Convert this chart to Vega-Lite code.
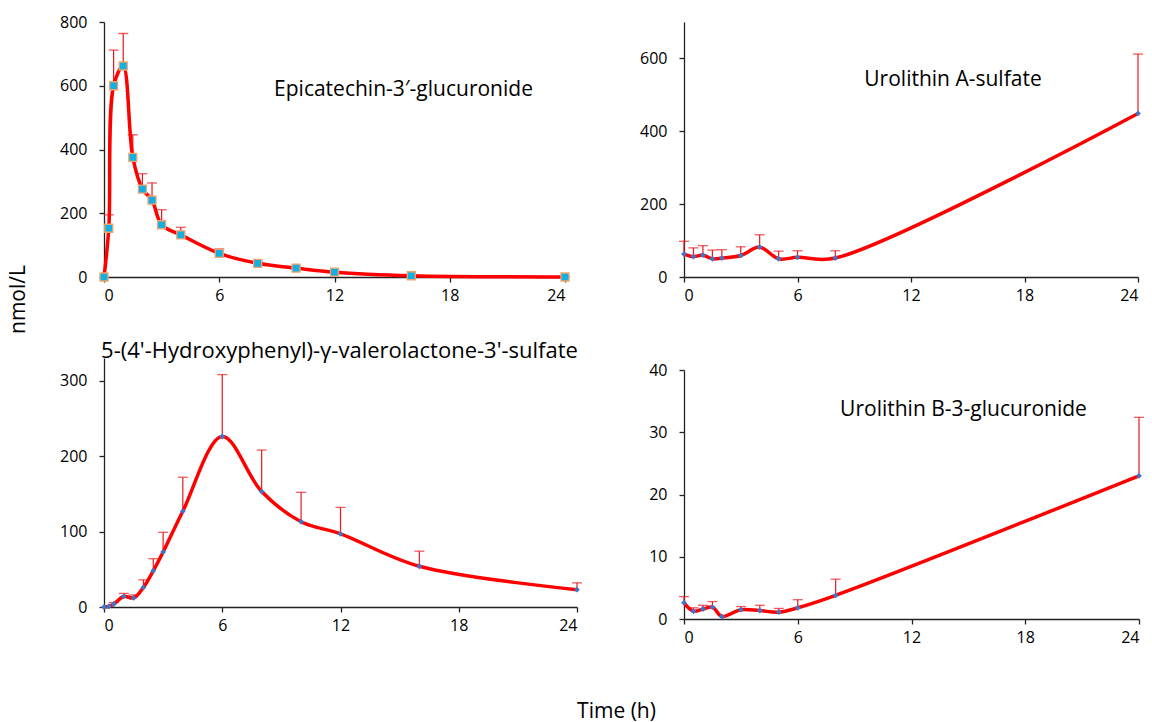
{
  "$schema": "https://vega.github.io/schema/vega-lite/v6.json",
  "padding": {"left": 7, "top": 14, "right": 5, "bottom": 5},
  "background": "white",
  "datasets": {
    "epi": [
      {"t": 0, "v": 0, "hi": null},
      {"t": 0.25, "v": 153, "hi": 195},
      {"t": 0.5, "v": 600, "hi": 712},
      {"t": 1, "v": 662, "hi": 764},
      {"t": 1.5, "v": 375, "hi": 446},
      {"t": 2, "v": 276, "hi": 324},
      {"t": 2.5, "v": 241, "hi": 295},
      {"t": 3, "v": 164, "hi": 211},
      {"t": 4, "v": 132, "hi": 156},
      {"t": 6, "v": 74, "hi": 88},
      {"t": 8, "v": 43, "hi": 50},
      {"t": 10, "v": 28, "hi": 33},
      {"t": 12, "v": 15, "hi": 19},
      {"t": 16, "v": 4, "hi": 6},
      {"t": 24, "v": 0, "hi": 1}
    ],
    "uroA": [
      {"t": 0, "v": 63, "hi": 98},
      {"t": 0.5, "v": 56, "hi": 80},
      {"t": 1, "v": 60, "hi": 86},
      {"t": 1.5, "v": 50, "hi": 74},
      {"t": 2, "v": 52, "hi": 75},
      {"t": 3, "v": 59, "hi": 83},
      {"t": 4, "v": 82, "hi": 116},
      {"t": 5, "v": 50, "hi": 71},
      {"t": 6, "v": 54, "hi": 72},
      {"t": 8, "v": 52, "hi": 72},
      {"t": 24, "v": 449, "hi": 612}
    ],
    "hvl": [
      {"t": 0, "v": 0, "hi": null},
      {"t": 0.25, "v": 1, "hi": null},
      {"t": 0.5, "v": 4, "hi": 6},
      {"t": 1, "v": 14, "hi": 18},
      {"t": 1.5, "v": 12, "hi": 16},
      {"t": 2, "v": 26, "hi": 36},
      {"t": 2.5, "v": 48, "hi": 64},
      {"t": 3, "v": 73, "hi": 99},
      {"t": 4, "v": 127, "hi": 172},
      {"t": 6, "v": 226, "hi": 308},
      {"t": 8, "v": 153, "hi": 208},
      {"t": 10, "v": 113, "hi": 152},
      {"t": 12, "v": 97, "hi": 132},
      {"t": 16, "v": 54, "hi": 74},
      {"t": 24, "v": 23, "hi": 32}
    ],
    "uroB": [
      {"t": 0, "v": 2.6, "hi": 3.6},
      {"t": 0.5, "v": 1.25, "hi": 1.8},
      {"t": 1, "v": 1.6, "hi": 2.2},
      {"t": 1.5, "v": 1.9, "hi": 2.8},
      {"t": 2, "v": 0.4, "hi": null},
      {"t": 3, "v": 1.5, "hi": 2.0},
      {"t": 4, "v": 1.35, "hi": 2.2},
      {"t": 5, "v": 1.1, "hi": 1.7},
      {"t": 6, "v": 1.8, "hi": 3.1},
      {"t": 8, "v": 3.8, "hi": 6.4},
      {"t": 24, "v": 23, "hi": 32.4}
    ]
  },
  "title": {"text": "Time (h)", "orient": "bottom", "anchor": "middle", "fontSize": 21, "font": "Open Sans", "fontWeight": "normal", "color": "black", "offset": 56, "dx": 40},
  "config": {
    "view": {"stroke": null},
    "font": "Open Sans",
    "axis": {"grid": false, "domainColor": "#222", "tickColor": "#222", "tickSize": 5, "labelFontSize": 16, "labelFont": "Open Sans", "labelColor": "black", "domainWidth": 1.3, "tickWidth": 1.3},
    "axisY": {"labelPadding": 12},
    "axisX": {"labelPadding": 5},
    "title": {"fontWeight": "normal", "fontSize": 21, "font": "Open Sans", "color": "black"}
  },
  "spacing": 55,
  "hconcat": [
    {
      "bounds": "flush",
      "spacing": 81,
      "vconcat": [
        {
          "width": 461, "height": 255,
          "data": {"name": "epi"},
          "title": {"text": "Epicatechin-3′-glucuronide", "anchor": "middle", "dx": 69, "offset": -86},
          "encoding": {
            "x": {"field": "t", "type": "quantitative", "scale": {"domain": [0, 24], "nice": false}, "axis": {"values": [0, 6, 12, 18, 24], "title": null}},
            "y": {"field": "v", "type": "quantitative", "scale": {"domain": [0, 800], "nice": false}, "axis": {"values": [0, 200, 400, 600, 800], "title": "nmol/L", "titleFontSize": 21, "titleFontWeight": "normal", "titleFont": "Open Sans", "titleColor": "black", "titleX": -86, "titleY": 277, "titleAngle": -90, "titleBaseline": "middle"}}
          },
          "layer": [
            {"transform": [{"filter": "datum.hi != null"}], "mark": {"type": "rule", "color": "#e8181c", "strokeWidth": 1.2}, "encoding": {"y2": {"field": "hi"}}},
            {"transform": [{"filter": "datum.hi != null"}], "mark": {"type": "tick", "orient": "horizontal", "color": "#e8181c", "size": 10, "thickness": 1.3}, "encoding": {"y": {"field": "hi", "type": "quantitative"}}},
            {"mark": {"type": "line", "color": "#ff0000", "strokeWidth": 3.5, "interpolate": "catmull-rom"}, "encoding": {}},
            {"mark": {"type": "square", "filled": true, "fill": "#0fb0e6", "stroke": "#f4a46a", "strokeWidth": 1.3, "opacity": 1, "size": 64}, "encoding": {}}
          ]
        },
        {
          "width": 473, "height": 249,
          "data": {"name": "hvl"},
          "title": {"text": "5-(4'-Hydroxyphenyl)-γ-valerolactone-3'-sulfate", "anchor": "middle", "dx": -1, "offset": -5, "fontSize": 22},
          "encoding": {
            "x": {"field": "t", "type": "quantitative", "scale": {"domain": [0, 24], "nice": false}, "axis": {"values": [0, 6, 12, 18, 24], "title": null}},
            "y": {"field": "v", "type": "quantitative", "scale": {"domain": [0, 330], "nice": false}, "axis": {"values": [0, 100, 200, 300], "title": null}}
          },
          "layer": [
            {"transform": [{"filter": "datum.hi != null"}], "mark": {"type": "rule", "color": "#e8181c", "strokeWidth": 1.2}, "encoding": {"y2": {"field": "hi"}}},
            {"transform": [{"filter": "datum.hi != null"}], "mark": {"type": "tick", "orient": "horizontal", "color": "#e8181c", "size": 10, "thickness": 1.3}, "encoding": {"y": {"field": "hi", "type": "quantitative"}}},
            {"mark": {"type": "line", "color": "#ff0000", "strokeWidth": 3.5, "interpolate": "catmull-rom"}, "encoding": {}},
            {"mark": {"type": "point", "shape": "diamond", "filled": true, "color": "#4472c4", "opacity": 1, "size": 34}, "encoding": {}}
          ]
        }
      ]
    },
    {
      "bounds": "flush",
      "spacing": 93,
      "vconcat": [
        {
          "width": 454, "height": 255,
          "data": {"name": "uroA"},
          "title": {"text": "Urolithin A-sulfate", "anchor": "middle", "dx": 42, "offset": -68},
          "encoding": {
            "x": {"field": "t", "type": "quantitative", "scale": {"domain": [0, 24], "nice": false}, "axis": {"values": [0, 6, 12, 18, 24], "title": null}},
            "y": {"field": "v", "type": "quantitative", "scale": {"domain": [0, 700], "nice": false}, "axis": {"values": [0, 200, 400, 600], "title": null}}
          },
          "layer": [
            {"transform": [{"filter": "datum.hi != null"}], "mark": {"type": "rule", "color": "#e8181c", "strokeWidth": 1.2}, "encoding": {"y2": {"field": "hi"}}},
            {"transform": [{"filter": "datum.hi != null"}], "mark": {"type": "tick", "orient": "horizontal", "color": "#e8181c", "size": 10, "thickness": 1.3}, "encoding": {"y": {"field": "hi", "type": "quantitative"}}},
            {"mark": {"type": "line", "color": "#ff0000", "strokeWidth": 3.5, "interpolate": "catmull-rom"}, "encoding": {}},
            {"mark": {"type": "point", "shape": "diamond", "filled": true, "color": "#4472c4", "opacity": 1, "size": 34}, "encoding": {}}
          ]
        },
        {
          "width": 455, "height": 249,
          "data": {"name": "uroB"},
          "title": {"text": "Urolithin B-3-glucuronide", "anchor": "middle", "dx": 52, "offset": -58},
          "encoding": {
            "x": {"field": "t", "type": "quantitative", "scale": {"domain": [0, 24], "nice": false}, "axis": {"values": [0, 6, 12, 18, 24], "title": null}},
            "y": {"field": "v", "type": "quantitative", "scale": {"domain": [0, 40], "nice": false}, "axis": {"values": [0, 10, 20, 30, 40], "title": null}}
          },
          "layer": [
            {"transform": [{"filter": "datum.hi != null"}], "mark": {"type": "rule", "color": "#e8181c", "strokeWidth": 1.2}, "encoding": {"y2": {"field": "hi"}}},
            {"transform": [{"filter": "datum.hi != null"}], "mark": {"type": "tick", "orient": "horizontal", "color": "#e8181c", "size": 10, "thickness": 1.3}, "encoding": {"y": {"field": "hi", "type": "quantitative"}}},
            {"mark": {"type": "line", "color": "#ff0000", "strokeWidth": 3.5, "interpolate": "catmull-rom"}, "encoding": {}},
            {"mark": {"type": "point", "shape": "diamond", "filled": true, "color": "#4472c4", "opacity": 1, "size": 34}, "encoding": {}}
          ]
        }
      ]
    }
  ]
}
